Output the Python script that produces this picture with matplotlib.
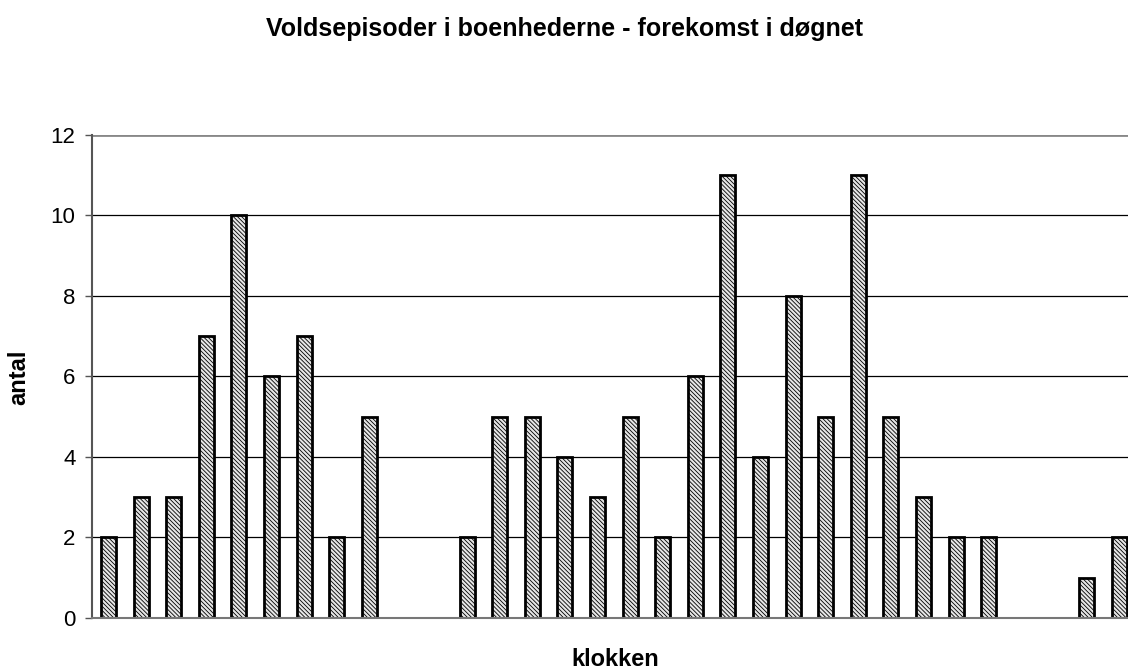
import numpy as np
import matplotlib
matplotlib.use("Agg")
import matplotlib.pyplot as plt

plt.rcParams['font.family'] = ['Liberation Sans', 'DejaVu Sans']
plt.rcParams['hatch.linewidth'] = 0.6

# antal voldsepisoder pr. time/interval i døgnet
antal = [2, 3, 3, 7, 10, 6, 7, 2, 5, 0, 0, 2, 5, 5, 4, 3,
         5, 2, 6, 11, 4, 8, 5, 11, 5, 3, 2, 2, 0, 0, 1, 2]
y_ticks = [0, 2, 4, 6, 8, 10, 12]

fig = plt.figure(figsize=(11.28, 6.72), dpi=100)
ax = fig.add_axes([0.0818, 0.0804, 0.9248, 0.7188])

x = np.arange(len(antal))
ax.bar(x, antal, width=0.46, color='#e6e6e6', edgecolor='black',
       linewidth=2, hatch='\\\\\\\\\\\\\\\\', zorder=3)

ax.set_xlim(-0.5, len(antal) - 0.5)
ax.set_ylim(0, 12)
ax.set_yticks(y_ticks)
ax.set_xticks([])
ax.tick_params(axis='y', labelsize=16, length=5, width=1, color='#555555', pad=7)

# gitterlinjer
for t in y_ticks[1:-1]:
    ax.axhline(t, color='black', linewidth=0.9, zorder=0)
ax.axhline(y_ticks[-1], color='#888888', linewidth=2, zorder=0)

for s in ['top', 'right']:
    ax.spines[s].set_visible(False)
ax.spines['left'].set_color('#555555')
ax.spines['left'].set_linewidth(1.5)
ax.spines['bottom'].set_color('#777777')
ax.spines['bottom'].set_linewidth(1.5)
ax.spines['bottom'].set_zorder(4)

fig.text(19 / 1128, 1 - 377 / 672, 'antal', rotation=90, fontsize=17,
         fontweight='bold', ha='center', va='center')
fig.text(615 / 1128, 1 - 659 / 672, 'klokken', fontsize=17,
         fontweight='bold', ha='center', va='center')
fig.text(0.5, 1 - 29 / 672, 'Voldsepisoder i boenhederne - forekomst i døgnet',
         fontsize=18, fontweight='bold', ha='center', va='center')

fig.savefig('out.png', dpi=100)
